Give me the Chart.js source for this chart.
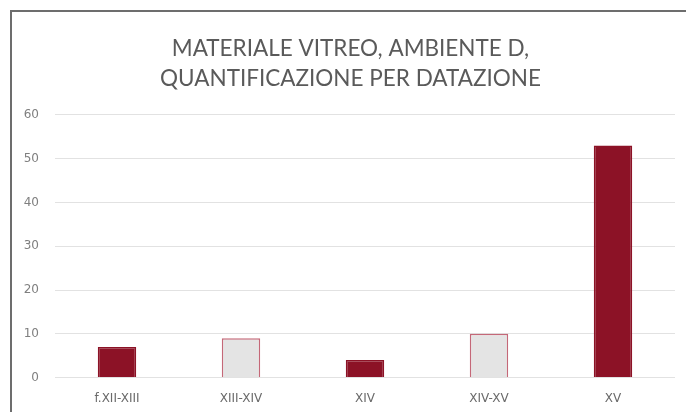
<!DOCTYPE html>
<html>
<head>
<meta charset="utf-8">
<script src="https://cdn.jsdelivr.net/npm/chart.js@4/dist/chart.umd.min.js"></script>
<style>
  html, body { margin: 0; padding: 0; background: #fff; overflow: hidden; }
  #frame {
    position: absolute; left: 10px; top: 10px;
    width: 692px; height: 402px;
    border-top: 2px solid #6d6d6d;
    border-left: 2px solid #6d6d6d;
    box-sizing: border-box;
  }
  #chart { display: block; }
</style>
</head>
<body>
<div id="frame"><canvas id="chart" width="690" height="400"></canvas></div>
<script>
/* ============================
   DATA
============================ */
const titleLines = ['MATERIALE VITREO, AMBIENTE D,', 'QUANTIFICAZIONE PER DATAZIONE'];
const periods = ['f.XII-XIII', 'XIII-XIV', 'XIV', 'XIV-XV', 'XV'];
const counts = [7, 9, 4, 10, 53];
const yTicks = [0, 10, 20, 30, 40, 50, 60];

/* ============================
   STYLE
============================ */
const DARK = '#8c1226';
const LIGHT = '#e4e4e4';
const LIGHT_EDGE = '#c46878';
const TITLE_FONT = 'Lato, "Open Sans", sans-serif';
const TICK_FONT = '"DejaVu Sans", "Open Sans", sans-serif';

// centre the title on the whole frame instead of the padded box
const centerTitle = {
    id: 'centerTitle',
    afterLayout(chart) {
        if (chart.titleBlock) chart.titleBlock.left += 14;
    }
};

/* ============================
   CHART
============================ */
new Chart(document.getElementById('chart'), {
    type: 'bar',
    data: {
        labels: periods,
        datasets: [{
            data: counts,
            backgroundColor: ctx => ctx.dataIndex % 2 ? LIGHT : DARK,
            borderColor: ctx => ctx.dataIndex % 2 ? LIGHT_EDGE : DARK,
            borderWidth: 1.5,
            barPercentage: 1,
            categoryPercentage: 0.31
        }]
    },
    options: {
        responsive: false,
        animation: false,
        layout: { padding: { left: 0, right: 27, bottom: 0 } },
        plugins: {
            legend: { display: false },
            tooltip: { enabled: false },
            title: {
                display: true,
                text: titleLines,
                color: '#5a5a5a',
                font: { family: TITLE_FONT, size: 22.5, weight: 'normal', lineHeight: 1.33 },
                padding: { top: 22, bottom: 21 }
            }
        },
        scales: {
            x: {
                grid: { display: false },
                border: { display: false },
                ticks: { color: '#6a6a6a', font: { family: TICK_FONT, size: 12 }, padding: 6 }
            },
            y: {
                min: 0,
                max: 60,
                afterBuildTicks: axis => { axis.ticks = yTicks.map(v => ({ value: v })); },
                afterFit: axis => { axis.width = 43; },
                grid: { color: '#e2e2e2', lineWidth: 1, drawTicks: false },
                border: { display: false },
                ticks: { color: '#7f7f7f', font: { family: TICK_FONT, size: 12 }, padding: 16 }
            }
        }
    },
    plugins: [centerTitle]
});
</script>
</body>
</html>
